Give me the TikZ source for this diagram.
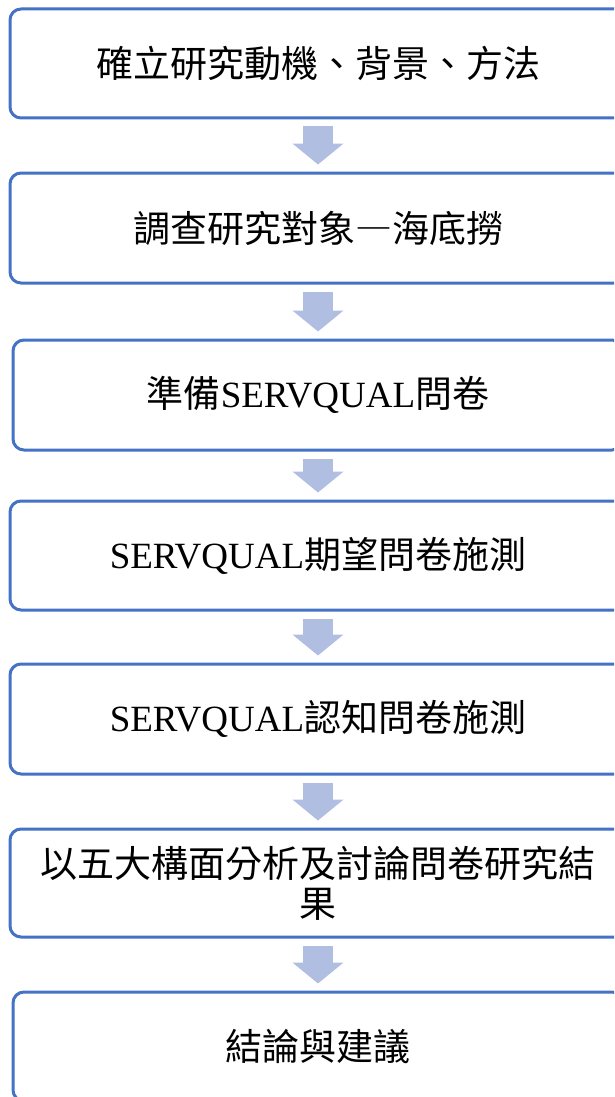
\documentclass[tikz,border=0pt]{standalone}
\usepackage{fontspec}
\setmainfont{Liberation Serif}
\newfontfamily\cjk{Noto Sans CJK TC}
\newfontfamily\cjkfw[RawFeature=+fwid]{Noto Sans CJK TC}
\usetikzlibrary{arrows.meta}
\definecolor{boxblue}{RGB}{68,114,196}
\definecolor{arrowblue}{RGB}{176,190,226}
\tikzset{
  stepbox/.style={draw=boxblue, line width=3pt, rounded corners=11pt, fill=white,
    align=center, inner sep=0pt, font=\fontsize{37}{40}\selectfont},
  flowarrow/.style={draw=arrowblue, line width=30pt,
    -{Triangle[width=50pt,length=21pt]}, shorten <=7pt, shorten >=7pt}
}
\begin{document}
\begin{tikzpicture}[x=1pt,y=-1pt]
\useasboundingbox (0,0) rectangle (614,1097);
\clip (0,0) rectangle (614,1097);
\node[stepbox, minimum width=616pt, minimum height=109pt] (b1) at (318,63.5) {\cjk 確立研究動機、背景、方法};
\node[stepbox, minimum width=616pt, minimum height=110pt] (b2) at (318,228) {\cjk 調查研究對象{\cjkfw —}海底撈};
\node[stepbox, minimum width=610pt, minimum height=110pt] (b3) at (318,395) {{\cjk 準備}SERVQUAL{\cjk 問卷}};
\node[stepbox, minimum width=616pt, minimum height=109pt] (b4) at (318,555.5) {SERVQUAL{\cjk 期望問卷施測}};
\node[stepbox, minimum width=616pt, minimum height=110pt] (b5) at (318,719) {SERVQUAL{\cjk 認知問卷施測}};
\node[stepbox, minimum width=616pt, minimum height=108pt] (b6) at (318,883) {\cjk 以五大構面分析及討論問卷研究結\\\cjk 果};
\node[stepbox, minimum width=610pt, minimum height=109pt] (b7) at (318,1046.5) {\cjk 結論與建議};
\draw[flowarrow] (b1.south) -- (b2.north);
\draw[flowarrow] (b2.south) -- (b3.north);
\draw[flowarrow] (b3.south) -- (b4.north);
\draw[flowarrow] (b4.south) -- (b5.north);
\draw[flowarrow] (b5.south) -- (b6.north);
\draw[flowarrow] (b6.south) -- (b7.north);
\end{tikzpicture}
\end{document}
